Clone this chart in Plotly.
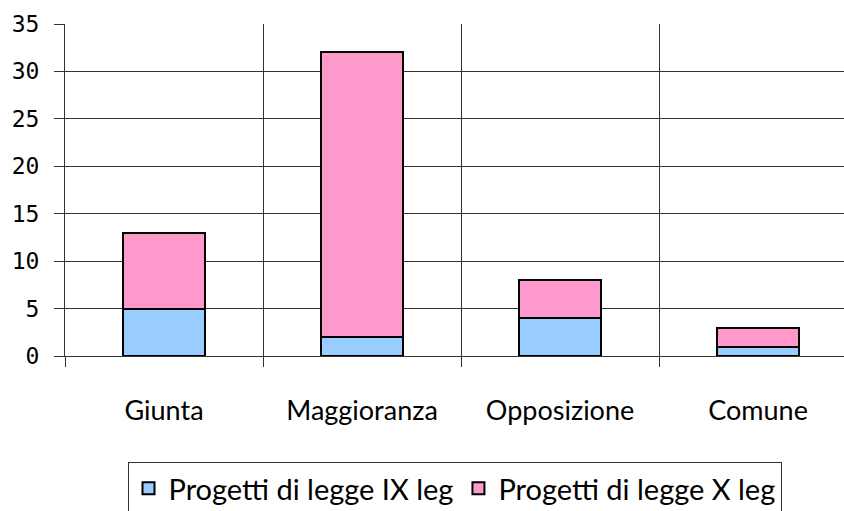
import plotly.graph_objects as go

categories = ["Giunta", "Maggioranza", "Opposizione", "Comune"]
ix_leg = [5, 2, 4, 1]
x_leg = [8, 30, 4, 2]
y_ticks = [0, 5, 10, 15, 20, 25, 30, 35]

fig = go.Figure()
fig.add_trace(go.Bar(x=categories, y=ix_leg, name="Progetti di legge IX leg",
                     marker=dict(color="#99CCFF", line=dict(color="#000000", width=2)),
                     width=0.414))
fig.add_trace(go.Bar(x=categories, y=x_leg, name="Progetti di legge X leg",
                     marker=dict(color="#FF99CC", line=dict(color="#000000", width=2)),
                     width=0.414))

fig.update_layout(
    width=844, height=511,
    margin=dict(l=65, r=0, t=24, b=155, autoexpand=False),
    barmode="stack",
    plot_bgcolor="white", paper_bgcolor="white",
    showlegend=True,
    legend=dict(orientation="h", x=0.5, xanchor="center", y=-0.319, yanchor="top",
                bordercolor="#333333", borderwidth=1,
                font=dict(family="Lato", size=29, color="#000000"),
                itemwidth=30, traceorder="normal"),
    xaxis=dict(range=[-0.5, 3.434], tickson="boundaries", showgrid=True,
               gridcolor="#333333", gridwidth=1, ticks="outside", ticklen=10,
               tickcolor="#333333", showline=True, linecolor="#333333", linewidth=1,
               ticklabelstandoff=31,
               tickfont=dict(family="Lato", size=27, color="#000000")),
    yaxis=dict(range=[0, 35], tickvals=y_ticks, showgrid=True, gridcolor="#333333",
               gridwidth=1, ticks="outside", ticklen=10, tickcolor="#333333",
               showline=True, linecolor="#333333", linewidth=1, zeroline=False,
               ticklabelstandoff=10,
               tickfont=dict(family="DejaVu Sans Mono", size=23, color="#000000")),
)

fig.write_html("out.html", config={"displayModeBar": False},
               post_script="document.body.style.margin='0';document.body.style.overflow='hidden';")
